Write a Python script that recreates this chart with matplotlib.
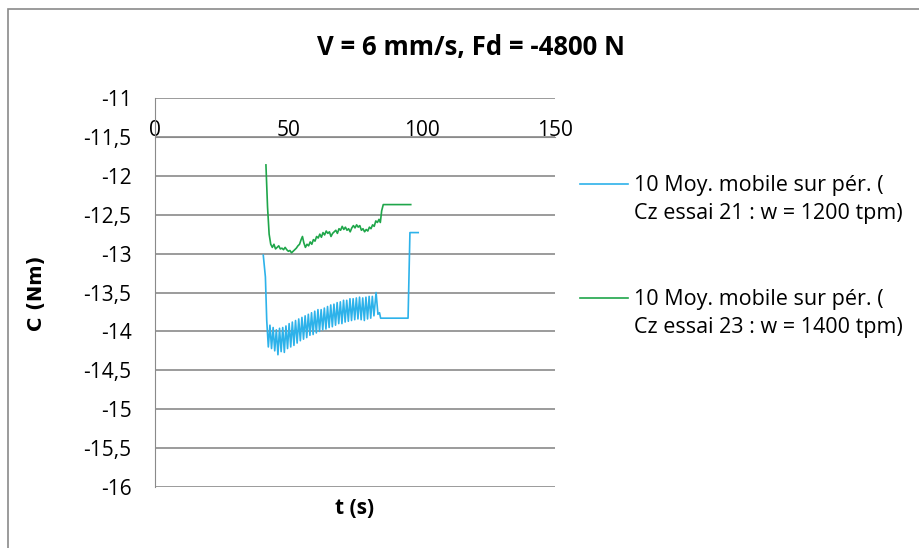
import matplotlib
matplotlib.use("Agg")
import matplotlib.pyplot as plt
from matplotlib.patches import Rectangle
from matplotlib.lines import Line2D

# essai 21 (bleu)
t_21 = [40.6, 41.4, 41.9, 42.5, 43.1, 43.7, 44.3, 44.9, 45.5, 46.1, 46.7, 47.3, 47.9, 48.5, 49.1,
	49.7, 50.3, 50.9, 51.5, 52.1, 52.7, 53.3, 53.9, 54.5, 55.1, 55.7, 56.3, 56.9, 57.5, 58.1,
	58.7, 59.3, 59.9, 60.5, 61.1, 61.7, 62.3, 62.9, 63.5, 64.1, 64.7, 65.3, 65.9, 66.5, 67.1,
	67.7, 68.3, 68.9, 69.5, 70.1, 70.7, 71.3, 71.9, 72.5, 73.1, 73.7, 74.3, 74.9, 75.5, 76.1,
	76.7, 77.3, 77.9, 78.5, 79.1, 79.7, 80.3, 80.9, 81.5, 82.1, 82.9, 83.6, 84.2, 84.6, 94.9,
	95.6, 98.7]
c_21 = [-13.02, -13.3, -13.86, -14.2, -13.92, -14.22, -13.95, -14.25, -13.98, -14.3, -13.96, -14.26, -13.95, -14.27, -13.93,
	-14.22, -13.9, -14.2, -13.88, -14.18, -13.86, -14.15, -13.84, -14.12, -13.82, -14.1, -13.8, -14.08, -13.78, -14.05,
	-13.76, -14.04, -13.74, -14.02, -13.72, -14.0, -13.72, -13.98, -13.7, -13.97, -13.68, -13.95, -13.66, -13.94, -13.65,
	-13.92, -13.63, -13.9, -13.62, -13.9, -13.6, -13.88, -13.6, -13.87, -13.58, -13.86, -13.58, -13.85, -13.57, -13.84,
	-13.56, -13.85, -13.57, -13.86, -13.56, -13.84, -13.55, -13.83, -13.55, -13.8, -13.5, -13.78, -13.76, -13.83, -13.83,
	-12.73, -12.73]

# essai 23 (vert)
t_23 = [41.6, 42.2, 42.8, 43.4, 44.0, 44.6, 45.2, 45.8, 46.4, 47.0, 47.6, 48.2, 48.8, 49.4, 50.0,
	50.6, 51.2, 51.8, 52.4, 53.0, 53.6, 54.2, 54.8, 55.3, 55.8, 56.4, 57.0, 57.6, 58.2, 58.8,
	59.4, 60.0, 60.6, 61.2, 61.8, 62.4, 63.0, 63.6, 64.2, 64.8, 65.4, 66.0, 66.6, 67.2, 67.8,
	68.4, 69.0, 69.6, 70.2, 70.8, 71.4, 72.0, 72.6, 73.2, 73.8, 74.4, 75.0, 75.6, 76.2, 76.8,
	77.4, 78.0, 78.6, 79.2, 79.8, 80.4, 81.0, 81.6, 82.2, 82.8, 83.4, 84.0, 84.5, 85.0, 85.6,
	95.9]
c_23 = [-11.86, -12.4, -12.75, -12.88, -12.92, -12.88, -12.94, -12.92, -12.9, -12.94, -12.93, -12.95, -12.92, -12.95, -12.97,
	-12.96, -12.99, -12.97, -12.95, -12.93, -12.9, -12.88, -12.82, -12.78, -12.86, -12.92, -12.88, -12.9, -12.85, -12.88,
	-12.82, -12.84, -12.78, -12.8, -12.75, -12.79, -12.73, -12.76, -12.71, -12.74, -12.72, -12.78, -12.74, -12.72, -12.7,
	-12.74, -12.68, -12.7, -12.65, -12.69, -12.66, -12.7, -12.68, -12.72, -12.67, -12.64, -12.67, -12.63, -12.66, -12.64,
	-12.7, -12.68, -12.72, -12.69, -12.71, -12.66, -12.68, -12.63, -12.65, -12.58, -12.6, -12.56, -12.6, -12.45, -12.37,
	-12.37]

x_ticks = [0, 50, 100, 150]
y_ticks = [-16, -15.5, -15, -14.5, -14, -13.5, -13, -12.5, -12, -11.5, -11]
labels = ["10 Moy. mobile sur pér. (\nCz essai 21 : w = 1200 tpm)",
	"10 Moy. mobile sur pér. (\nCz essai 23 : w = 1400 tpm)"]
colors = ["#2db2ea", "#1fa64a"]

plt.rcParams['font.family'] = ['Open Sans', 'DejaVu Sans']
grey = "#8a8a8a"

fig = plt.figure(figsize=(9.2, 5.48), dpi=100)
ax = fig.add_axes([155 / 920, 1 - 487 / 548, 400 / 920, 389 / 548])

ax.plot(t_21, c_21, color=colors[0], lw=1.2)
ax.plot(t_23, c_23, color=colors[1], lw=1.2)

ax.set_xlim(0, 150)
ax.set_ylim(-16, -11)
ax.set_yticks(y_ticks)
ax.set_yticklabels([str(v).replace(".", ",").replace(",0", "") for v in y_ticks])
ax.yaxis.grid(True, color=grey, lw=1.2)
ax.set_axisbelow(True)

# axe des x qui croise a -11,5, etiquettes au-dessus
ax.xaxis.tick_top()
ax.set_xticks(x_ticks)
ax.set_xticklabels([str(v) for v in x_ticks])
ax.spines['top'].set_position(('data', -11.5))
ax.spines['top'].set_color(grey)
ax.spines['bottom'].set_visible(False)
ax.spines['right'].set_visible(False)
ax.spines['left'].set_color(grey)
ax.tick_params(axis='x', length=0, pad=-3, labelsize=15)
ax.tick_params(axis='y', length=0, pad=17, labelsize=15)

fig.text(355 / 920, 1 - 508 / 548, "t (s)", fontsize=15, fontweight='bold', ha='center', va='center')
fig.text(37 / 920, 1 - 293 / 548, "C (Nm)", fontsize=14, fontweight='bold', family='DejaVu Sans',
	rotation=90, ha='center', va='center')
fig.text(471 / 920, 1 - 47 / 548, "V = 6 mm/s, Fd = -4800 N", fontsize=18.5, fontweight='bold', ha='center', va='center')

# legende a la main : trait aligne sur la premiere ligne
leg_y = [184, 298]
for i in range(2):
	y = 1 - leg_y[i] / 548
	fig.add_artist(Line2D([580 / 920, 628 / 920], [y, y], transform=fig.transFigure, color=colors[i], lw=1.2))
	fig.text(634 / 920, 1 - (leg_y[i] + 15.5) / 548, labels[i], fontsize=15.5, ha='left', va='center',
		linespacing=1.5)

fig.add_artist(Rectangle((8 / 920, -0.1), 1.1, 1.1 - 9 / 548, transform=fig.transFigure,
	fill=False, edgecolor=grey, lw=1.2))

fig.savefig("out.png", dpi=100)
